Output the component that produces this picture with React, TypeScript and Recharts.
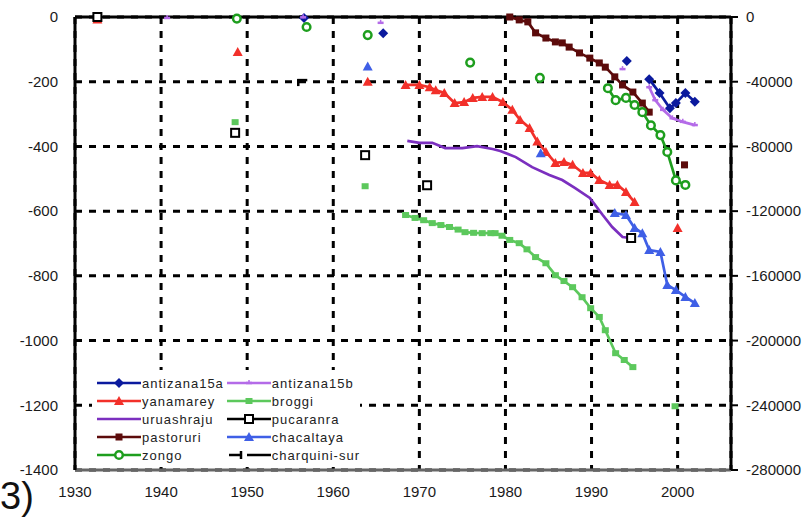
import React from 'react'
import { LineChart, Line, XAxis, YAxis, CartesianGrid, ReferenceLine } from 'recharts'

const xTicks = [1930, 1940, 1950, 1960, 1970, 1980, 1990, 2000]
const leftTicks = [0, -200, -400, -600, -800, -1000, -1200, -1400]
const rightTicks = [0, -40000, -80000, -120000, -160000, -200000, -240000, -280000]

// null = gap between separate measurements
const antizana15aYears = [1956.6, 1960, 1965.8, 1980, 1994.1, 1995, 1996.7, 1997.9, 1999.1, 1999.8, 2000.9, 2002]
const antizana15aValues = [-3, null, -50, null, -136, null, -192, -235, -282, -266, -235, -262]

const antizana15bYears = [1940.7, 1950, 1956.5, 1960, 1965.5, 1980, 1993.6, 1995, 1996.7, 1997.4, 1998.3, 1999.4, 2000.6, 2002]
const antizana15bValues = [-3, null, -1, null, -18, null, -161, null, -217, -257, -287, -313, -324, -334]

const yanamareyYears = [1932.6, 1940, 1948.9, 1955, 1964, 1966, 1968.4, 1970, 1971.2, 1971.9, 1972.9, 1974.1, 1975.2, 1976.2, 1977.3, 1978.5, 1979.7, 1980.8, 1981.7, 1982.8, 1983.7, 1984.7, 1985.8, 1986.8, 1987.8, 1989, 1989.9, 1990.9, 1992.1, 1993, 1994, 1995, 1997, 2000]
const yanamareyValues = [-8, null, -108, null, -200, null, -210, -210, -217, -226, -235, -266, -263, -250, -247, -247, -263, -287, -318, -343, -385, -417, -451, -448, -457, -482, -482, -504, -519, -519, -541, -572, null, -652]

const broggiYears = [1948.6, 1955, 1963.7, 1966, 1968.4, 1969.5, 1970.5, 1971.5, 1972.5, 1973.5, 1974.5, 1975.3, 1976.3, 1977.3, 1978.3, 1978.8, 1979.6, 1980.5, 1981.6, 1982.5, 1983.5, 1984.7, 1985.8, 1986.8, 1987.8, 1988.9, 1989.9, 1990.9, 1991.6, 1992.8, 1993.8, 1994.8, 1997, 1999.7]
const broggiValues = [-325, null, -523, null, -612, -621, -628, -637, -643, -649, -657, -665, -667, -668, -668, -668, -676, -689, -699, -718, -742, -761, -798, -816, -835, -866, -900, -927, -968, -1039, -1060, -1082, null, -1203]

const uruashrajuYears = [1968.6, 1970, 1971.5, 1973, 1975, 1976.7, 1978.5, 1979.4, 1981.2, 1983.1, 1985.1, 1986.6, 1988.1, 1989.8, 1991.3, 1992.4, 1993.6, 1994.5]
const uruashrajuValues = [-383, -389, -389, -405, -405, -399, -408, -414, -433, -464, -488, -504, -529, -559, -612, -649, -680, -683]

const pucaranraYears = [1932.6, 1940, 1948.6, 1955, 1963.7, 1967, 1970.9, 1980, 1994.6]
const pucaranraValues = [0, null, -358, null, -427, null, -520, null, -683]

const pastoruriYears = [1980.5, 1981.6, 1982.6, 1983.5, 1984.7, 1985.8, 1986.6, 1987.4, 1988.6, 1989.8, 1990.9, 1991.6, 1992.7, 1993.6, 1994.8, 1995.9, 1996.7, 1998.5, 2000.8]
const pastoruriValues = [0, -9, -15, -49, -65, -77, -80, -93, -111, -127, -142, -155, -185, -210, -232, -266, -294, null, -457]

const chacaltayaYears = [1964, 1975, 1984.1, 1988, 1992.7, 1994, 1995, 1995.9, 1996.7, 1998, 1998.8, 1999.8, 2000.9, 2002]
const chacaltayaValues = [-153, null, -421, null, -606, -612, -652, -668, -720, -726, -828, -844, -865, -884]

const zongoYears = [1948.8, 1952, 1956.9, 1960, 1964, 1970, 1975.9, 1980, 1984, 1988, 1991.9, 1992.8, 1994, 1995, 1995.9, 1996.9, 1998, 1998.8, 1999.8, 2000.9]
const zongoValues = [-5, null, -31, null, -56, null, -141, null, -188, null, -220, -257, -250, -272, -294, -335, -365, -417, -505, -519]

const charquiniYears = [1956.4]
const charquiniValues = [-195]

const toRows = (years: number[], values: (number | null)[]) =>
  years.map((year, i) => ({ year, value: values[i] }))

type Kind = 'diamond' | 'dash' | 'triangle' | 'smallsquare' | 'none' | 'opensquare' | 'square' | 'circle' | 'tick'

const series: { name: string; color: string; kind: Kind; data: { year: number; value: number | null }[] }[] = [
  { name: 'antizana15a', color: '#0b1a9e', kind: 'diamond', data: toRows(antizana15aYears, antizana15aValues) },
  { name: 'antizana15b', color: '#b46be8', kind: 'dash', data: toRows(antizana15bYears, antizana15bValues) },
  { name: 'yanamarey', color: '#f2302a', kind: 'triangle', data: toRows(yanamareyYears, yanamareyValues) },
  { name: 'broggi', color: '#5cc85c', kind: 'smallsquare', data: toRows(broggiYears, broggiValues) },
  { name: 'uruashraju', color: '#7b2fbf', kind: 'none', data: toRows(uruashrajuYears, uruashrajuValues) },
  { name: 'pucaranra', color: '#000000', kind: 'opensquare', data: toRows(pucaranraYears, pucaranraValues) },
  { name: 'pastoruri', color: '#5c0b0b', kind: 'square', data: toRows(pastoruriYears, pastoruriValues) },
  { name: 'chacaltaya', color: '#3f5fe6', kind: 'triangle', data: toRows(chacaltayaYears, chacaltayaValues) },
  { name: 'zongo', color: '#1e9e1e', kind: 'circle', data: toRows(zongoYears, zongoValues) },
  { name: 'charquini-sur', color: '#000000', kind: 'tick', data: toRows(charquiniYears, charquiniValues) },
]

// right axis only carries its own scale; this invisible series just anchors it
const rightAxisRows = rightTicks.map((v) => ({ year: 1930, value: v }))

function marker(kind: Kind, color: string, cx: number, cy: number) {
  switch (kind) {
    case 'diamond':
      return <polygon points={`${cx},${cy - 5} ${cx + 5},${cy} ${cx},${cy + 5} ${cx - 5},${cy}`} fill={color} />
    case 'triangle':
      return <polygon points={`${cx},${cy - 5} ${cx + 5},${cy + 4} ${cx - 5},${cy + 4}`} fill={color} />
    case 'square':
      return <rect x={cx - 3.5} y={cy - 3.5} width={7} height={7} fill={color} />
    case 'smallsquare':
      return <rect x={cx - 3.5} y={cy - 3} width={7} height={6} fill={color} />
    case 'opensquare':
      return <rect x={cx - 4} y={cy - 4} width={8} height={8} fill="#fff" stroke={color} strokeWidth={2} />
    case 'circle':
      return <circle cx={cx} cy={cy} r={3.8} fill="#fff" stroke={color} strokeWidth={2.5} />
    case 'dash':
      return (
        <g>
          <line x1={cx - 3} x2={cx + 3} y1={cy} y2={cy} stroke={color} strokeWidth={2.5} />
          <line x1={cx} x2={cx} y1={cy - 3} y2={cy + 1} stroke={color} strokeWidth={1.5} />
        </g>
      )
    case 'tick':
      return (
        <g>
          <line x1={cx - 5} x2={cx + 5} y1={cy} y2={cy} stroke={color} strokeWidth={2.5} />
          <line x1={cx - 4} x2={cx - 4} y1={cy - 1} y2={cy + 6} stroke={color} strokeWidth={2.5} />
        </g>
      )
    default:
      return null
  }
}

const makeDot = (kind: Kind, color: string) => (p: any) => {
  const { cx, cy, value, index } = p
  if (cx == null || cy == null || value == null || kind === 'none') return <g key={`n${index}`} />
  return <g key={`d${index}`}>{marker(kind, color, cx, cy)}</g>
}

const axisFont = { fill: '#1a1a1a', fontSize: 15, fontFamily: '"Liberation Sans", Arial, sans-serif' }

function LegendItem({ s }: { s: (typeof series)[number] }) {
  return (
    <div style={{ display: 'flex', alignItems: 'center', height: 18, whiteSpace: 'nowrap' }}>
      <svg width={44} height={14} style={{ display: 'block', flex: 'none' }}>
        {s.kind === 'tick' ? (
          <g>
            <line x1={2} x2={14} y1={7} y2={7} stroke="#000" strokeWidth={2.5} />
            <line x1={14} x2={14} y1={3} y2={11} stroke="#000" strokeWidth={2.5} />
            <line x1={20} x2={44} y1={7} y2={7} stroke="#000" strokeWidth={2.5} />
          </g>
        ) : (
          <g>
            <line x1={0} x2={44} y1={7} y2={7} stroke={s.color} strokeWidth={2.5} />
            {marker(s.kind, s.color, 22, 7)}
          </g>
        )}
      </svg>
      <span style={{ marginLeft: 1, letterSpacing: 1 }}>{s.name}</span>
    </div>
  )
}

export default function App() {
  const col1 = [series[0], series[2], series[4], series[6], series[8]]
  const col2 = [series[1], series[3], series[5], series[7], series[9]]
  return (
    <div style={{ position: 'absolute', left: 0, top: 0, width: 804, height: 520, background: '#fff', overflow: 'hidden' }}>
      <LineChart width={804} height={520} margin={{ top: 17, right: 0, bottom: 0, left: 0 }}>
        <CartesianGrid yAxisId="left" stroke="#000" strokeWidth={3} strokeDasharray="7 7" />
        <XAxis
          type="number"
          dataKey="year"
          domain={[1930, 2006.2]}
          ticks={xTicks}
          height={50}
          tick={axisFont}
          tickLine={false}
          tickSize={6}
          tickMargin={10}
          axisLine={{ stroke: '#666', strokeWidth: 3 }}
        />
        <YAxis
          yAxisId="left"
          type="number"
          domain={[-1400, 0]}
          ticks={leftTicks}
          width={75}
          tick={axisFont}
          tickLine={false}
          tickSize={5}
          tickMargin={12}
          axisLine={{ stroke: '#000', strokeWidth: 3 }}
        />
        <YAxis
          yAxisId="right"
          orientation="right"
          type="number"
          domain={[-280000, 0]}
          ticks={rightTicks}
          width={73}
          tick={axisFont}
          tickSize={7}
          tickMargin={8}
          tickLine={{ stroke: '#000', strokeWidth: 2 }}
          axisLine={{ stroke: '#000', strokeWidth: 3 }}
        />
        <Line
          yAxisId="right"
          data={rightAxisRows}
          dataKey="value"
          stroke="none"
          dot={false}
          activeDot={false}
          legendType="none"
          isAnimationActive={false}
        />
        <ReferenceLine yAxisId="left" y={0} stroke="#000" strokeWidth={3} />
        {series.map((s) => (
          <Line
            key={s.name}
            yAxisId="left"
            data={s.data}
            dataKey="value"
            name={s.name}
            type="linear"
            stroke={s.color}
            strokeWidth={2.7}
            dot={makeDot(s.kind, s.color)}
            activeDot={false}
            connectNulls={false}
            isAnimationActive={false}
          />
        ))}
      </LineChart>
      <div
        style={{
          position: 'absolute',
          left: 92,
          top: 370,
          width: 268,
          height: 97,
          background: '#fff',
          fontFamily: '"Liberation Sans", Arial, sans-serif',
          fontSize: 13,
          color: '#222',
          display: 'flex',
          paddingLeft: 5,
          paddingTop: 4,
          boxSizing: 'border-box',
        }}
      >
        <div style={{ width: 138 }}>
          {col1.map((s) => (
            <LegendItem key={s.name} s={s} />
          ))}
        </div>
        <div>
          {col2.map((s) => (
            <LegendItem key={s.name} s={s} />
          ))}
        </div>
      </div>
      <div
        style={{
          position: 'absolute',
          left: 0,
          top: 474,
          fontSize: 38,
          lineHeight: '44px',
          fontFamily: '"Liberation Sans", Arial, sans-serif',
          color: '#111',
        }}
      >
        3)
      </div>
    </div>
  )
}
